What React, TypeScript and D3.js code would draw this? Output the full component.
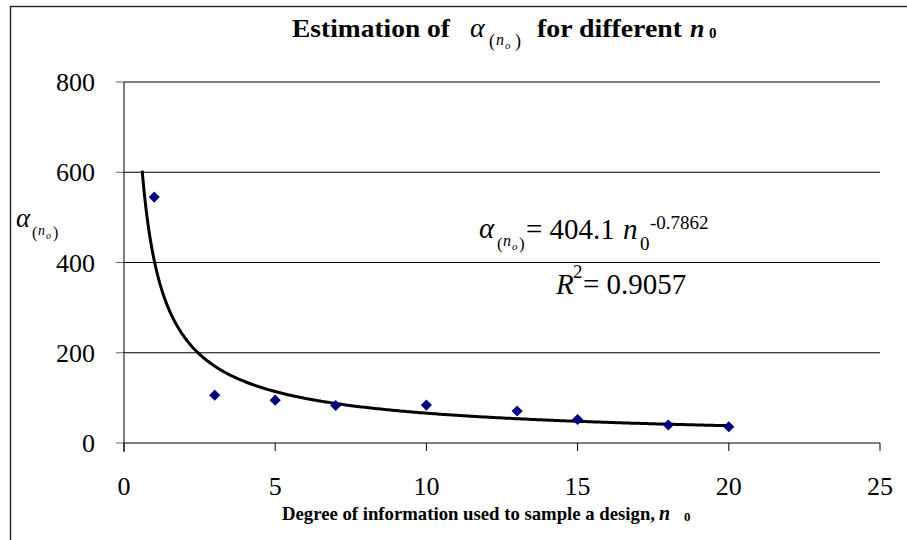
import React from "react";
import * as d3 from "d3";

// Observed points: degree of information n0 vs estimated alpha
const nValues = [1, 3, 5, 7, 10, 13, 15, 18, 20];
const alphaValues = [545, 106, 95, 83, 84, 71, 52, 40, 36];

// Power-law fit alpha = a * n0^b
const fitA = 404.1;
const fitB = -0.7862;
const fitStart = 0.6;
const fitEnd = 20;

const xTicks = [0, 5, 10, 15, 20, 25];
const yTicks = [0, 200, 400, 600, 800];

const W = 907;
const H = 540;
const SERIF = '"Liberation Serif"';

type TProps = {
  x: number;
  y: number;
  size: number;
  bold?: boolean;
  italic?: boolean;
  anchor?: "start" | "middle" | "end";
  len?: number;
  children: React.ReactNode;
};

// Text in the chart's serif face
function T({ x, y, size, bold, italic, anchor, len, children }: TProps) {
  return (
    <text
      x={x}
      y={y}
      fill="#000"
      textAnchor={anchor || "start"}
      textLength={len}
      lengthAdjust={len ? "spacingAndGlyphs" : undefined}
      style={{
        fontFamily: SERIF,
        fontSize: size,
        fontWeight: bold ? "bold" : "normal",
        fontStyle: italic ? "italic" : "normal",
      }}
    >
      {children}
    </text>
  );
}

export default function App() {
  const x = d3.scaleLinear().domain([0, 25]).range([124, 880]);
  const y = d3.scaleLinear().domain([0, 800]).range([443, 82]);

  const fitPts: [number, number][] = d3
    .range(0, 301)
    .map((i) => fitStart + ((fitEnd - fitStart) * i) / 300)
    .map((n) => [n, fitA * Math.pow(n, fitB)]);

  const line = d3
    .line<[number, number]>()
    .x((d) => x(d[0]))
    .y((d) => y(d[1]));

  const diamond = d3.symbol().type(d3.symbolSquare).size(62)();

  return (
    <svg width={W} height={H} style={{ position: "absolute", left: 0, top: 0, background: "#fff" }}>
      {/* chart frame */}
      <rect x={10.5} y={6.5} width={W} height={H} fill="none" stroke="#222" strokeWidth={1.4} />

      {/* horizontal gridlines */}
      {yTicks
        .filter((t) => t > 0)
        .map((t) => (
          <line key={"g" + t} x1={x(0)} x2={x(25)} y1={y(t)} y2={y(t)} stroke="#000" strokeWidth={1} />
        ))}

      {/* y ticks */}
      {yTicks.map((t) => (
        <line key={"yt" + t} x1={116} x2={x(0)} y1={y(t)} y2={y(t)} stroke="#666" strokeWidth={1} />
      ))}
      {/* x axis */}
      <line x1={x(0)} x2={x(25)} y1={y(0)} y2={y(0)} stroke="#808080" strokeWidth={2} />
      {xTicks.map((t) => (
        <line key={"xt" + t} x1={x(t)} x2={x(t)} y1={y(0)} y2={y(0) + 8} stroke="#000" strokeWidth={1} />
      ))}
      {/* y axis */}
      <line x1={x(0)} x2={x(0)} y1={y(800)} y2={y(0) + 9} stroke="#000" strokeWidth={1} />

      {/* tick labels */}
      {yTicks.map((t) => (
        <T key={"yl" + t} x={95} y={y(t) + 9} size={26} anchor="end">
          {t}
        </T>
      ))}
      {xTicks.map((t) => (
        <T key={"xl" + t} x={x(t)} y={495} size={26} anchor="middle">
          {t}
        </T>
      ))}

      {/* fitted curve */}
      <path d={line(fitPts) || ""} fill="none" stroke="#000" strokeWidth={3} strokeLinejoin="round" />

      {/* data markers */}
      {nValues.map((n, i) => (
        <path
          key={"p" + i}
          d={diamond || ""}
          transform={`translate(${x(n)},${y(alphaValues[i])}) rotate(45)`}
          fill="#000080"
        />
      ))}

      {/* title */}
      <T x={292} y={37} size={26} bold len={158}>Estimation of</T>
      <T x={470} y={37} size={28} italic>α</T>
      <T x={489} y={47} size={18}>(</T>
      <T x={496} y={45} size={16} italic>n</T>
      <T x={505} y={49} size={11} italic>o</T>
      <T x={515} y={47} size={18}>)</T>
      <T x={537} y={37} size={26} bold len={145}>for different</T>
      <T x={690} y={37} size={26} bold italic>n</T>
      <T x={709} y={38} size={15} bold>0</T>

      {/* y axis label */}
      <T x={16} y={227} size={27} italic>α</T>
      <T x={32} y={238} size={16}>(</T>
      <T x={38} y={235} size={14} italic>n</T>
      <T x={46} y={239} size={10} italic>o</T>
      <T x={53} y={238} size={16}>)</T>

      {/* fit equation */}
      <T x={479} y={238} size={29} italic>α</T>
      <T x={497} y={249} size={17}>(</T>
      <T x={503} y={246} size={16} italic>n</T>
      <T x={512} y={250} size={11} italic>o</T>
      <T x={519} y={249} size={17}>)</T>
      <T x={526} y={239} size={29}>= {fitA.toFixed(1)}</T>
      <T x={623} y={239} size={29} italic>n</T>
      <T x={640} y={250} size={19}>0</T>
      <T x={650} y={229} size={19}>{fitB.toFixed(4)}</T>

      <T x={556} y={294} size={29} italic>R</T>
      <T x={573} y={278} size={19}>2</T>
      <T x={583} y={294} size={29}>= 0.9057</T>

      {/* x axis title */}
      <T x={282} y={520} size={19} bold len={373}>Degree of information used to sample a design,</T>
      <T x={659} y={520} size={20} bold italic>n</T>
      <T x={684} y={521} size={13} bold>0</T>
    </svg>
  );
}
